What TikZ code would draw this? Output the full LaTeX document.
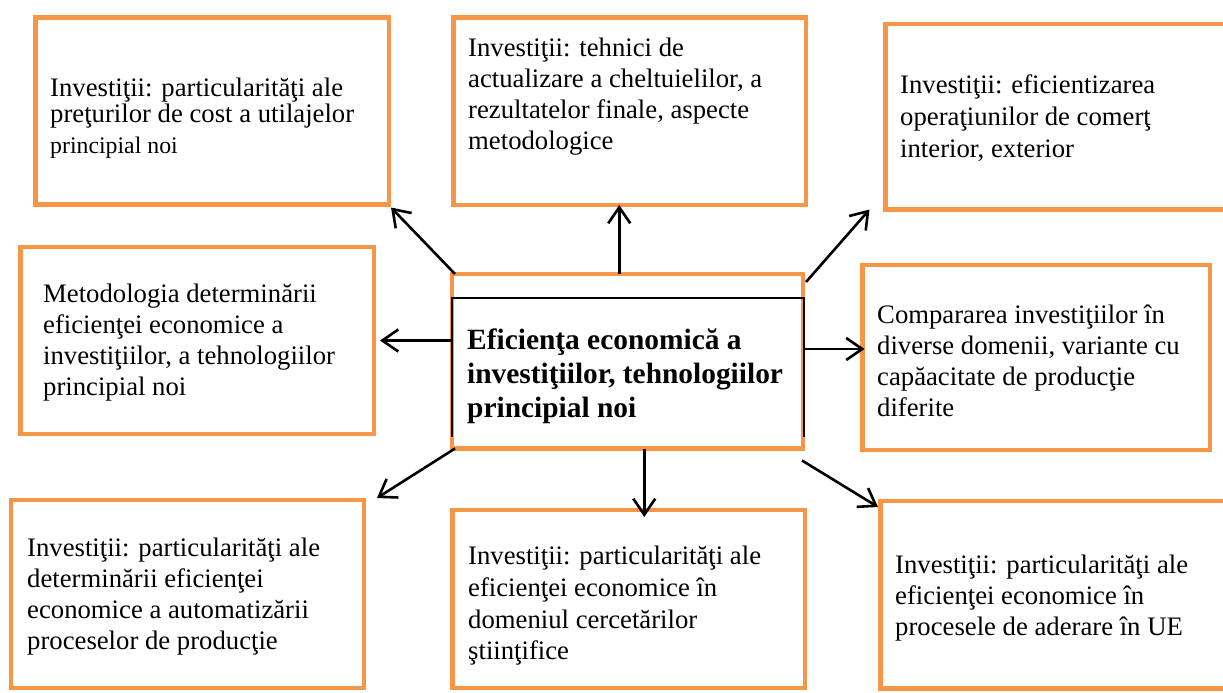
\documentclass[tikz,border=0pt]{standalone}
\usepackage{fontspec}
\setmainfont{Liberation Serif}
\usetikzlibrary{arrows.meta}
\definecolor{boxorange}{RGB}{247,150,70}
\begin{document}
\begin{tikzpicture}[x=1pt,y=-1pt,
  box/.style={draw=boxorange,line width=4.6pt,inner sep=0pt,outer sep=0pt,anchor=north west},
  txt/.style={align=left,inner sep=0pt,anchor=west,font=\fontsize{26.7}{31}\selectfont},
  arr/.style={line width=2.6pt,-{Straight Barb[length=16pt,width=22pt,line width=2.6pt]}}]
\useasboundingbox (0,0) rectangle (1223,693);
\fill[white] (0,0) rectangle (1223,693);
\clip (0,0) rectangle (1223,693);
% boxes
\node[box,minimum width=353.5pt,minimum height=187pt] (tl) at (35.5,17.5) {};
\node[box,minimum width=352.5pt,minimum height=187.5pt] (tm) at (453.5,17.5) {};
\node[box,minimum width=350pt,minimum height=185.5pt] (tr) at (885.5,24) {};
\node[box,minimum width=353.5pt,minimum height=187pt] (ml) at (20.5,247) {};
\node[box,minimum width=351pt,minimum height=174.5pt] (c) at (452,274) {};
\node[box,minimum width=347.5pt,minimum height=185pt] (mr) at (862.5,265) {};
\node[box,minimum width=353pt,minimum height=188pt] (bl) at (11,500) {};
\node[box,minimum width=352.5pt,minimum height=178pt] (bm) at (452.5,510) {};
\node[box,minimum width=360pt,minimum height=187.5pt] (br) at (880.5,501) {};
% inner black frame of the central box
\draw[line width=2pt] (451.5,437) |- (803.5,298) -- (803.5,437);
% texts
\node[txt,font=\fontsize{26.7}{26.7}\selectfont] (tlt) at (50,118) {Investiţii: particularităţi ale\\preţurilor de cost a utilajelor\\[4pt]{\fontsize{23.8}{26.7}\selectfont principial noi}};
\node[txt] (tmt) at (468,97) {Investiţii: tehnici de\\actualizare a cheltuielilor, a\\rezultatelor finale, aspecte\\metodologice};
\node[txt,font=\fontsize{26.7}{32}\selectfont] (trt) at (900,118) {Investiţii: eficientizarea\\operaţiunilor de comerţ\\interior, exterior};
\node[txt] (mlt) at (43,343) {Metodologia determinării\\eficienţei economice a\\investiţiilor, a tehnologiilor\\principial noi};
\node[txt,font=\bfseries\fontsize{29.4}{34}\selectfont] (ct) at (467,376) {Eficienţa economică a\\investiţiilor, tehnologiilor\\principial noi};
\node[txt] (mrt) at (877,361) {Compararea investiţiilor în\\diverse domenii, variante cu\\capăacitate de producţie\\diferite};
\node[txt] (blt) at (27,597) {Investiţii: particularităţi ale\\determinării eficienţei\\economice a automatizării\\proceselor de producţie};
\node[txt,font=\fontsize{26.7}{31.7}\selectfont] (bmt) at (468,606) {Investiţii: particularităţi ale\\eficienţei economice în\\domeniul cercetărilor\\ştiinţifice};
\node[txt] (brt) at (895,598) {Investiţii: particularităţi ale\\eficienţei economice în\\procesele de aderare în UE};
% arrow end points
\coordinate (tmin) at ([xshift=-10.5pt]tm.south);
\coordinate (trin) at ([xshift=-16pt]tr.south west);
\coordinate (mlin) at ([xshift=6pt]ml.east);
\coordinate (mrin) at ([xshift=2pt,yshift=8.5pt]mr.west);
\coordinate (blin) at ([xshift=13pt,yshift=2pt]bl.north east);
\coordinate (bmin) at ([xshift=15.5pt,yshift=-7pt]bm.north);
\coordinate (brin) at ([xshift=-2.5pt,yshift=-6pt]br.north west);
% arrows
\draw[arr] ([xshift=3pt]c.north west) -- ([xshift=2pt,yshift=-3pt]tl.south east);
\draw[arr] (c.north -| tmin) -- (tmin);
\draw[arr] ([xshift=3pt,yshift=-8pt]c.north east) -- (trin);
\draw[arr] (c.west |- mlin) -- (mlin);
\draw[arr] (c.east |- mrin) -- (mrin);
\draw[arr] ([xshift=3pt]c.south west) -- (blin);
\draw[arr] (c.south -| bmin) -- (bmin);
\draw[arr] ([xshift=-1pt,yshift=-12pt]c.south east) -- (brin);
\end{tikzpicture}
\end{document}
